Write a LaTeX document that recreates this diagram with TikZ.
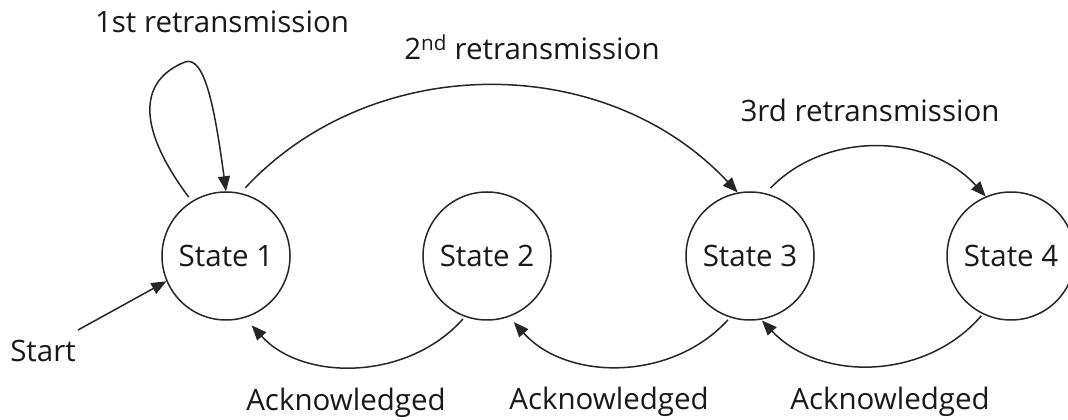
\documentclass[tikz,border=0pt]{standalone}
\usepackage{fontspec}
\setmainfont{Open Sans}
\usetikzlibrary{arrows.meta}
\begin{document}
\begin{tikzpicture}[x=1pt,y=1pt,
  every node/.style={font=\fontsize{29.5}{35}\selectfont, text=black!90},
  statenode/.style={circle, draw=black!85, line width=1.5pt, minimum size=128pt, inner sep=0pt},
  conn/.style={draw=black!85, line width=1.5pt, -{Triangle[length=15pt,width=12pt]}},
  lbl/.style={anchor=base}]
\useasboundingbox (0,0) rectangle (1068,420);
\node[statenode] (s1) at (226,164) {State 1};
\node[statenode] (s2) at (487,164) {State 2};
\node[statenode] (s3) at (750,164) {State 3};
\node[statenode] (s4) at (1011,164) {State 4};

\node[lbl] (l1) at (222,387) {1st retransmission};
\node[lbl] (l2) at (532,360) {2\textsuperscript{nd} retransmission};
\node[lbl] (l3) at (870,298) {3rd retransmission};
\node[lbl] (lst) at (43,58) {Start};
\node[lbl] (a1) at (346,9) {Acknowledged};
\node[lbl] (a2) at (609,10) {Acknowledged};
\node[lbl] (a3) at (890,10) {Acknowledged};

\coordinate (st) at (78,90);
\draw[conn] (st) -- (s1.203);

\draw[conn, shorten <=5pt] (s1.122) .. controls (135,295) and (140,340) .. (185,358)
  .. controls (205,365) and (215,310) .. (s1.north);
\draw[conn, shorten <=7pt] (s1.77) to[bend left=47] (s3.101);
\draw[conn, shorten <=7pt] (s3.76) to[bend left=47] (s4.113);

\draw[conn, shorten <=3pt, shorten >=10pt] (s2.250) to[bend left=48] (s1.287);
\draw[conn, shorten <=3pt, shorten >=7pt] (s3.252) to[bend left=48] (s2.290);
\draw[conn, shorten <=2pt, shorten >=1pt] (s4.244) to[bend left=48] (s3.280);
\end{tikzpicture}
\end{document}
